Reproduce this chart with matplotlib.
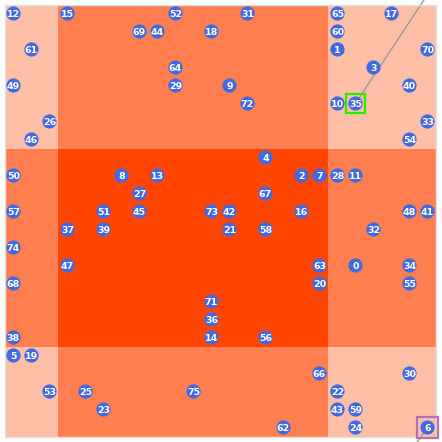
import matplotlib
matplotlib.use('Agg')
import matplotlib.pyplot as plt
from matplotlib.patches import Rectangle

# node ids with their grid column / row (row 0 at the top)
node_ids = [12, 15, 52, 31, 65, 17,
            69, 44, 18, 60,
            61, 1, 70,
            64, 3,
            49, 29, 9, 40,
            72, 10, 35,
            26, 33,
            46, 54,
            4,
            50, 8, 13, 2, 7, 28, 11,
            27, 67,
            57, 51, 45, 73, 42, 16, 48, 41,
            37, 39, 21, 58, 32,
            74,
            47, 63, 0, 34,
            68, 20, 55,
            71,
            36,
            38, 14, 56,
            5, 19,
            66, 30,
            53, 25, 75, 22,
            23, 43, 59,
            62, 24, 6]
node_cols = [0, 3, 9, 13, 18, 21,
             7, 8, 11, 18,
             1, 18, 23,
             9, 20,
             0, 9, 12, 22,
             13, 18, 19,
             2, 23,
             1, 22,
             14,
             0, 6, 8, 16, 17, 18, 19,
             7, 14,
             0, 5, 7, 11, 12, 16, 22, 23,
             3, 5, 12, 14, 20,
             0,
             3, 17, 19, 22,
             0, 17, 22,
             11,
             11,
             0, 11, 14,
             0, 1,
             17, 22,
             2, 4, 10, 18,
             5, 18, 19,
             15, 19, 23]
node_rows = [0] * 6 + [1] * 4 + [2] * 3 + [3] * 2 + [4] * 4 + [5] * 3 + [6] * 2 + [7] * 2 + \
            [8] + [9] * 7 + [10] * 2 + [11] * 8 + [12] * 5 + [13] + [14] * 4 + [15] * 3 + \
            [16] + [17] + [18] * 3 + [19] * 2 + [20] * 2 + [21] * 4 + [22] * 3 + [23] * 3

# background bands
col_edges = [0, 3, 18, 24]
row_edges = [0, 8, 19, 24]
band_colors = [['#FFBFA7', '#FF7F50', '#FFBFA7'],
               ['#FF7F50', '#FF4500', '#FF7F50'],
               ['#FFBFA7', '#FF7F50', '#FFBFA7']]

highlights = {35: '#22EE00', 6: '#B36FB6'}

fig = plt.figure(figsize=(4.42, 4.42), dpi=100)
ax = fig.add_axes([4.5 / 442, 5.5 / 442, 432 / 442, 432 / 442])
ax.set_xlim(0, 24)
ax.set_ylim(24, 0)

for i in range(3):
    for j in range(3):
        ax.add_patch(Rectangle((col_edges[j], row_edges[i]),
                               col_edges[j + 1] - col_edges[j],
                               row_edges[i + 1] - row_edges[i],
                               facecolor=band_colors[i][j], edgecolor='none', zorder=0))

xs = [c + 0.5 for c in node_cols]
ys = [r + 0.5 for r in node_rows]

# edges that run off the view
pos = dict(zip(node_ids, zip(xs, ys)))
x35, y35 = pos[35]
ax.plot([x35, x35 + 3.9], [y35, y35 - 5.9], color='#999999', lw=1, zorder=1, clip_on=False)
x6, y6 = pos[6]
ax.plot([x6, x6 - 0.6], [y6, y6 + 0.85], color='#999999', lw=1, zorder=1, clip_on=False)

ax.scatter(xs, ys, s=105, color='#4169E1', edgecolors='none', zorder=3, clip_on=False)
for n, x, y in zip(node_ids, xs, ys):
    ax.text(x, y + 0.03, str(n), color='white', fontsize=6.8, fontweight='bold',
            ha='center', va='center', zorder=4)

for n, c in highlights.items():
    x, y = pos[n]
    half = 0.52 if n == 35 else 0.58
    ax.add_patch(Rectangle((x - half, y - half), 2 * half, 2 * half, fill=False,
                           edgecolor=c, lw=1.6, zorder=5, clip_on=False))

ax.set_xticks([])
ax.set_yticks([])
for s in ax.spines.values():
    s.set_color('#E0E0E0')
    s.set_linewidth(1)

fig.savefig('out.png', dpi=100)
